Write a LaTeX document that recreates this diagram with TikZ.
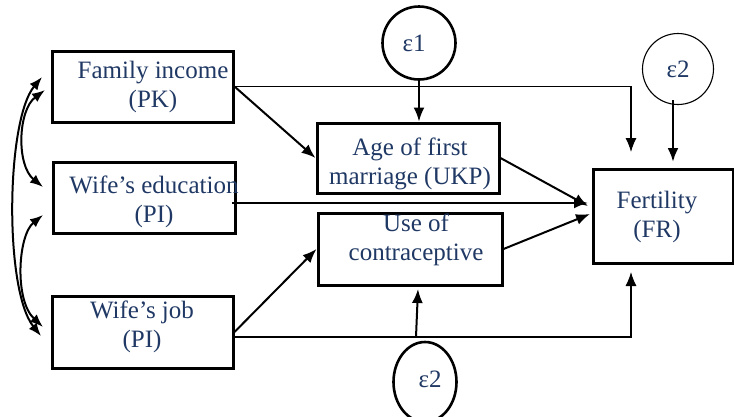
\documentclass[tikz,border=0pt]{standalone}
\usepackage{fontspec}
\setmainfont{Liberation Serif}
\newfontfamily\tnr{Liberation Serif}
\usetikzlibrary{arrows.meta,calc,shapes.geometric}
\definecolor{txt}{RGB}{31,56,100}
\begin{document}
\begin{tikzpicture}[x=1pt,y=-1pt,
  box/.style={draw, line width=3pt, inner sep=0pt},
  circ/.style={draw, circle, line width=2.6pt, inner sep=0pt},
  lbl/.style={text=txt, font=\tnr\fontsize{25}{29.5}\selectfont, align=center, inner sep=0pt},
  arr/.style={-{Latex[length=14pt,width=11pt]}, line width=2pt},
  thinarr/.style={-{Latex[length=14pt,width=11pt]}, line width=1.1pt},
  dbl/.style={{Latex[length=13pt,width=10pt]}-{Latex[length=13pt,width=10pt]}, line width=2pt}]
\useasboundingbox (0,0) rectangle (734,416);
% boxes
\node[box, minimum width=181, minimum height=71] (inc) at (142.5,86.5) {};
\node[box, minimum width=182, minimum height=71] (edu) at (144,197.5) {};
\node[box, minimum width=181, minimum height=72] (job) at (142.5,332) {};
\node[box, minimum width=182, minimum height=70] (age) at (408,158) {};
\node[box, minimum width=184, minimum height=72] (use) at (410,249) {};
\node[box, minimum width=140, minimum height=94] (fert) at (663,216) {};
\node[circ, minimum size=73] (e1) at (419,43) {};
\node[draw, circle, line width=1.1pt, inner sep=0pt, minimum size=71] (e2a) at (678,69) {};
\node[draw, ellipse, line width=2.6pt, inner sep=0pt, minimum width=63, minimum height=80] (e2b) at (425,382) {};
% labels
\node[lbl] (tinc) at (153,87) {Family income\\(PK)};
\node[lbl] (tedu) at (154,202) {Wife’s education\\(PI)};
\node[lbl] (tjob) at (142,327) {Wife’s job\\(PI)};
\node[lbl] (tage) at (410,164) {Age of first\\marriage (UKP)};
\node[lbl] (tuse) at (416,240) {Use of\\contraceptive};
\node[lbl] (tfert) at (657,217) {Fertility\\(FR)};
\node[lbl] (te1) at (414,43) {ε1};
\node[lbl] (te2a) at (678,69) {ε2};
\node[lbl] (te2b) at (430,379) {ε2};
% free ends
\coordinate (t1) at (631,152);
\coordinate (es) at (232,203);
\coordinate (et) at (588,203);
\coordinate (at) at (588,206);
\coordinate (ut) at (590,214);
\coordinate (js) at (233,337);
\coordinate (t3) at (631,272);
\coordinate (e2s) at (416,337);
\coordinate (e2t) at (418,289);
\coordinate (e2as) at (673,100);
\coordinate (e2at) at (673,162);
% connectors
\draw[arr] (inc.east) -- (age.west);
\draw[thinarr] (inc.east) -| (t1);
\draw[arr] (e1.south) -- (e1.south |- age.north);
\draw[arr] (es) -- (et);
\draw[arr] (age.east) -- (at);
\draw[arr] (use.east) -- (ut);
\draw[arr] (job.east) -- (use.west);
\draw[thinarr] (js) -| (t3);
\draw[arr] (e2s) -- (e2t);
\draw[-{Latex[length=14pt,width=11pt]}, line width=2.6pt] (e2as) -- (e2at);
% correlations
\coordinate (ia) at (45,90);
\coordinate (ib) at (42,77);
\coordinate (ea) at (43,187);
\coordinate (eb) at (43,215);
\coordinate (ja) at (43,327);
\coordinate (jb) at (41,336);
\draw[dbl] (ia) .. controls (18,110) and (16,165) .. (ea);
\draw[dbl] (eb) .. controls (18,235) and (14,300) .. (ja);
\draw[dbl] (ib) .. controls (6,120) and (4,290) .. (jb);
\end{tikzpicture}
\end{document}
